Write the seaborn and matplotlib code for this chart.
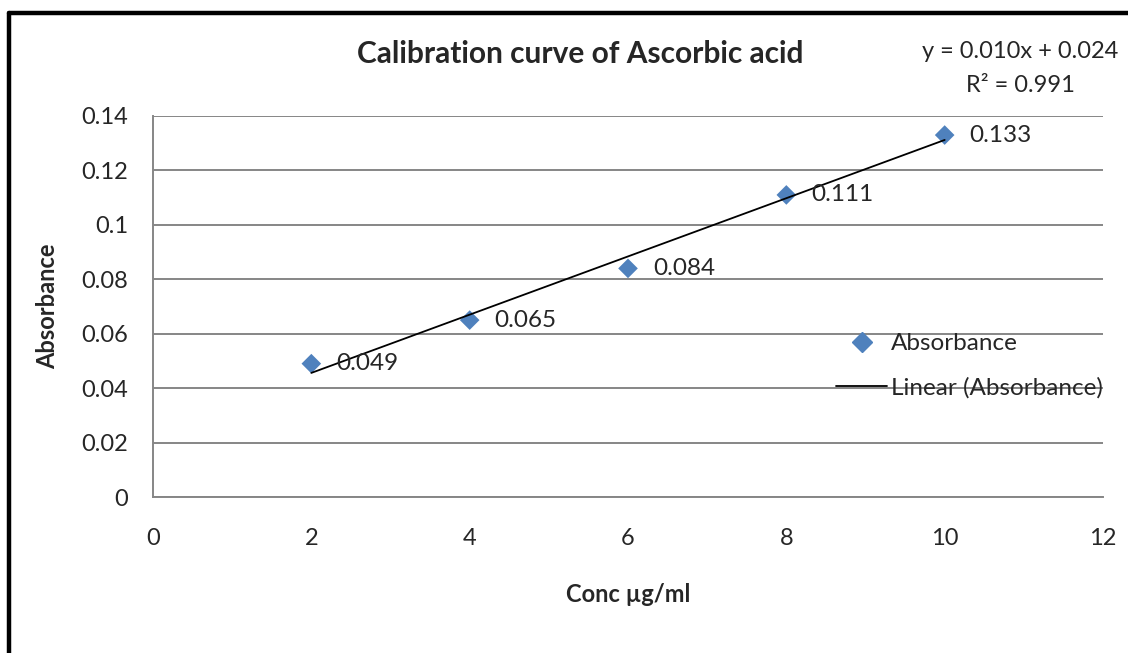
import pandas as pd
import matplotlib.pyplot as plt
import seaborn as sns
from matplotlib.lines import Line2D

# Data
conc = [2, 4, 6, 8, 10]
absorbance = [0.049, 0.065, 0.084, 0.111, 0.133]
point_labels = ['0.049', '0.065', '0.084', '0.111', '0.133']
x_ticks = [0, 2, 4, 6, 8, 10, 12]
y_ticks = [0, 0.02, 0.04, 0.06, 0.08, 0.1, 0.12, 0.14]
y_tick_labels = ['0', '0.02', '0.04', '0.06', '0.08', '0.1', '0.12', '0.14']

data = pd.DataFrame({'Conc': conc, 'Absorbance': absorbance})

sns.set_style('white')
plt.rcParams['font.family'] = ['Lato', 'DejaVu Sans']

blue = '#4F81BD'
grid = '#868686'

fig = plt.figure(figsize=(11.28, 6.53), dpi=100)
ax = fig.add_axes([153 / 1128, 1 - 497 / 653, 950 / 1128, 381 / 653])

sns.scatterplot(data=data, x='Conc', y='Absorbance', marker='D', s=100,
                color=blue, edgecolor='none', ax=ax, zorder=3, legend=False)
sns.regplot(data=data, x='Conc', y='Absorbance', scatter=False, ci=None,
            truncate=True, color='black', line_kws={'linewidth': 1.3, 'zorder': 4}, ax=ax)

for x, y, lab in zip(conc, absorbance, point_labels):
    ax.annotate(lab, (x, y), xytext=(18, 0), textcoords='offset points',
                va='center', ha='left', fontsize=17.5, zorder=5)

ax.set_xlim(0, 12)
ax.set_ylim(0, 0.14)
ax.set_xticks(x_ticks)
ax.set_yticks(y_ticks)
ax.set_yticklabels(y_tick_labels)
ax.tick_params(axis='both', length=0, labelsize=17)
ax.tick_params(axis='y', pad=18)
ax.tick_params(axis='x', pad=22)
ax.yaxis.grid(True, color=grid, linewidth=1.4)
ax.set_axisbelow(True)
for side in ['top', 'right']:
    ax.spines[side].set_visible(False)
for side in ['left', 'bottom']:
    ax.spines[side].set_color(grid)
    ax.spines[side].set_linewidth(1.4)

ax.set_xlabel('Conc µg/ml', fontsize=17, fontweight='bold', labelpad=25)
ax.set_ylabel('Absorbance', fontsize=17, fontweight='bold', labelpad=16)

fig.text(580 / 1128, 1 - 54 / 653, 'Calibration curve of Ascorbic acid',
         ha='center', va='center', fontsize=21.5, fontweight='bold')
fig.text(1020 / 1128, 1 - 52 / 653, 'y = 0.010x + 0.024', ha='center', va='center', fontsize=17)
fig.text(1020 / 1128, 1 - 85 / 653, 'R² = 0.991', ha='center', va='center', fontsize=17)

handles = [
    Line2D([], [], marker='D', linestyle='none', color=blue, markersize=10),
    Line2D([], [], color='black', linewidth=1.3),
]
ax.legend(handles, ['Absorbance', 'Linear (Absorbance)'], frameon=False, fontsize=17.5,
          loc='center left', bbox_to_anchor=(836 / 1128, 1 - 366 / 653),
          bbox_transform=fig.transFigure, handlelength=2.1, handletextpad=0.15,
          labelspacing=0.95, borderaxespad=0, borderpad=0)

# outer border (top and left edges only visible)
fig.add_artist(Line2D([9 / 1128, 1], [1 - 13 / 653, 1 - 13 / 653], color='black',
                      linewidth=3.2, transform=fig.transFigure))
fig.add_artist(Line2D([9 / 1128, 9 / 1128], [0, 1 - 13 / 653], color='black',
                      linewidth=3.2, transform=fig.transFigure))

fig.savefig('out.png', dpi=100)
